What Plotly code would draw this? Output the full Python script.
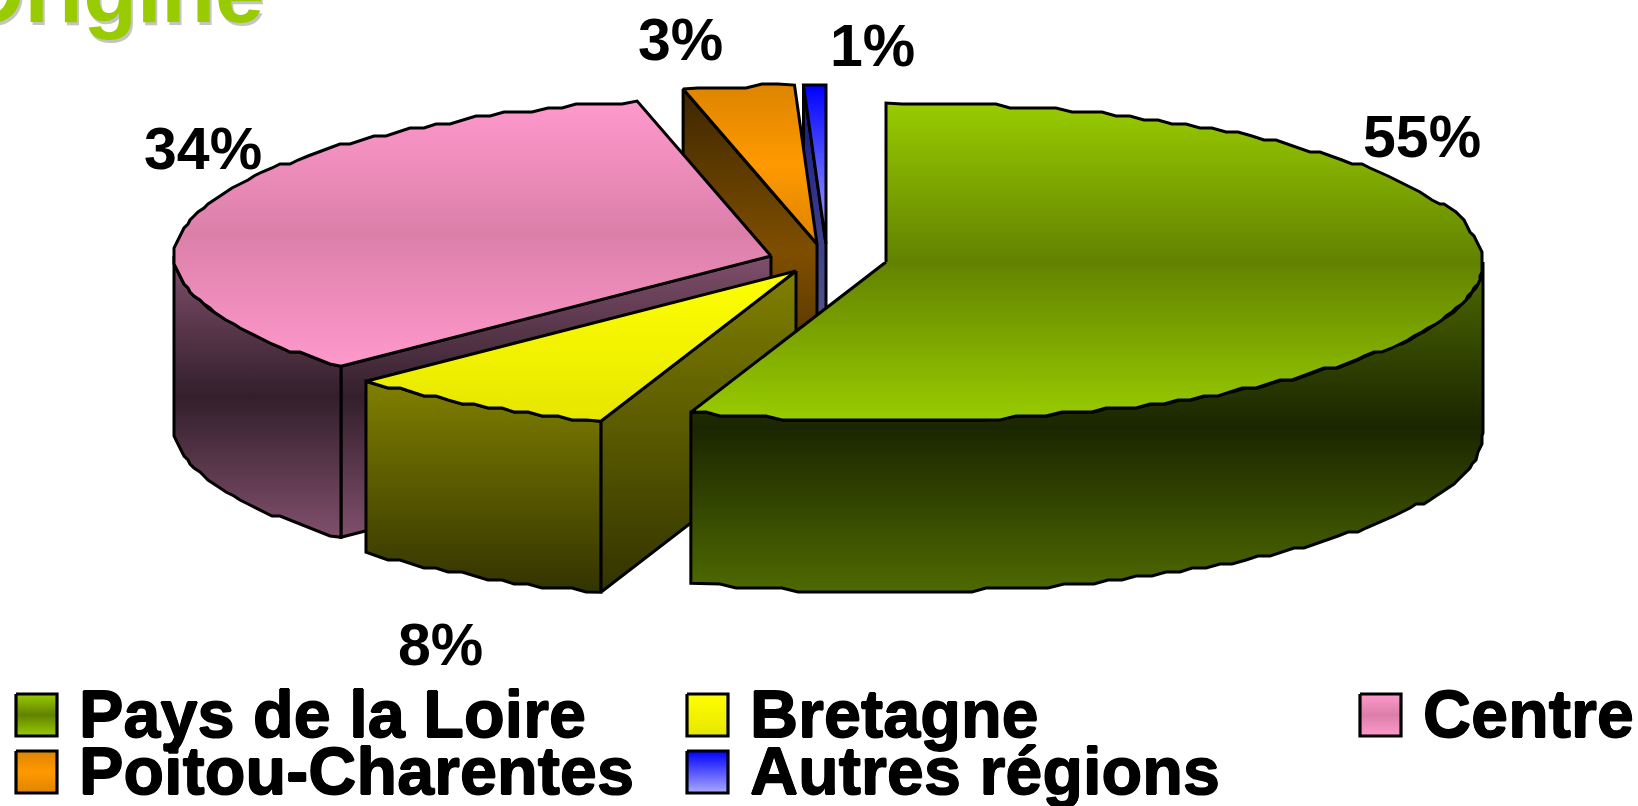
import math
import plotly.graph_objects as go

# ---- data ----
categories = ["Pays de la Loire", "Bretagne", "Centre", "Poitou-Charentes", "Autres régions"]
shares = [55.3, 7.5, 33.6, 3.0, 0.6]
share_labels = ["55%", "8%", "34%", "3%", "1%"]
title_text = "Origine"

# ---- geometry and style ----
W, H = 1638, 806
RX, RY, DEPTH = 597, 159, 171
CENTERS = [(886, 262), (796, 271), (771, 256), (817, 244), (826, 244)]
SNAP_X, SNAP_Y = 2, 4
STEP = 1.5
LINE = 3.0
FONT = "Liberation Sans"
TOP_SCALES = [
    ["#99cc00", "#628200", "#99cc00"],
    ["#ffff00", "#e6e600"],
    ["#ff99cc", "#db7fa9", "#ff99cc"],
    ["#dd8400", "#ff9900", "#dd8400"],
    ["#0000ff", "#aaaaff"],
]
WALL_SCALES = [
    ["#4f6a00", "#1a2600", "#4f6a00"],
    ["#808000", "#333300"],
    ["#804f6c", "#331f2b", "#804f6c"],
    ["#3d2600", "#7f4f00", "#3d2600"],
    ["#15158a", "#6a6e88"],
]
LABEL_POS = [(1422, 137), (440, 645), (203, 149), (680, 40), (872, 46)]
SWATCH_POS = [(16, 694), (687, 694), (1360, 694), (16, 751), (687, 751)]
SWATCH_W, SWATCH_H = 41, 42
LEGEND_FONT = 66.6
LABEL_FONT = 59
THICK = "0.7px 0 0 black, -0.7px 0 0 black, 0 0.7px 0 black, 0 -0.7px 0 black"


def point(c, t, dy=0):
    a = math.radians(t)
    return c[0] + RX * math.sin(a), c[1] - RY * math.cos(a) + dy


def arc(c, t1, t2, dy=0):
    """Points along the rim, snapped to a coarse grid for its stepped look."""
    n = max(1, int(abs(t2 - t1) / STEP))
    pts = []
    for i in range(n + 1):
        t = t1 + (t2 - t1) * i / n
        x, y = point(c, t, dy)
        if 0 < i < n:
            x = round(x / SNAP_X) * SNAP_X
            y = round(y / SNAP_Y) * SNAP_Y
        pts.append((x, y))
    return pts


def scale(colors):
    return [[i / (len(colors) - 1), col] for i, col in enumerate(colors)]


fig = go.Figure()


def poly(pts, colors, lw=LINE):
    xs = [p[0] for p in pts] + [pts[0][0]]
    ys = [p[1] for p in pts] + [pts[0][1]]
    fig.add_trace(go.Scatter(
        x=xs, y=ys, mode="lines", fill="toself",
        line=dict(color="black", width=lw, shape="linear"),
        fillgradient=dict(type="vertical", colorscale=scale(colors),
                          start=min(ys), stop=max(ys)),
        hoverinfo="skip", showlegend=False,
    ))


# slice angles, clockwise from 12 o'clock
total = sum(shares)
edges = [0.0]
for v in shares:
    edges.append(edges[-1] + v / total * 360)

# back to front
for i in [4, 3, 2, 1, 0]:
    c, t1, t2 = CENTERS[i], edges[i], edges[i + 1]
    # radial cut face on the slice's leading edge (hidden on the first slice)
    if i != 0:
        p = point(c, t1)
        poly([c, p, (p[0], p[1] + DEPTH), (c[0], c[1] + DEPTH)], WALL_SCALES[i])
    # rim wall (front half of the ellipse only)
    lo, hi = max(t1, 90), min(t2, 270)
    if lo < hi:
        poly(arc(c, lo, hi) + arc(c, hi, lo, DEPTH), WALL_SCALES[i])
    # top face
    poly([c] + arc(c, t1, t2), TOP_SCALES[i])

annotations = []


def text(x, y, s, size, color="black", anchor="center", shadow="none"):
    annotations.append(dict(
        xref="paper", yref="paper", x=x / W, y=1 - y / H, text=s, showarrow=False,
        xanchor=anchor, yanchor="middle", borderpad=0,
        font=dict(family=FONT, size=size, color=color, weight=700, shadow=shadow),
    ))


for lab, (x, y) in zip(share_labels, LABEL_POS):
    text(x, y, lab, LABEL_FONT)

for i, (cat, (x, y)) in enumerate(zip(categories, SWATCH_POS)):
    poly([(x, y), (x + SWATCH_W, y), (x + SWATCH_W, y + SWATCH_H), (x, y + SWATCH_H)],
         TOP_SCALES[i], lw=3.2)
    text(x + SWATCH_W + 21, y + 20, cat, LEGEND_FONT, anchor="left", shadow=THICK)

text(-43, -6, title_text, 88, color="#c4c4c4", anchor="left")
text(-45, -8, title_text, 88, color="#99cc00", anchor="left")

fig.update_layout(
    width=W, height=H, margin=dict(l=0, r=0, t=0, b=0, pad=0),
    paper_bgcolor="white", plot_bgcolor="white", showlegend=False,
    xaxis=dict(range=[0, W], visible=False, fixedrange=True),
    yaxis=dict(range=[H, 0], visible=False, fixedrange=True),
    annotations=annotations,
)
fig.write_html("out.html", config={"displayModeBar": False},
               post_script="document.body.style.margin='0';document.body.style.overflow='hidden';")
